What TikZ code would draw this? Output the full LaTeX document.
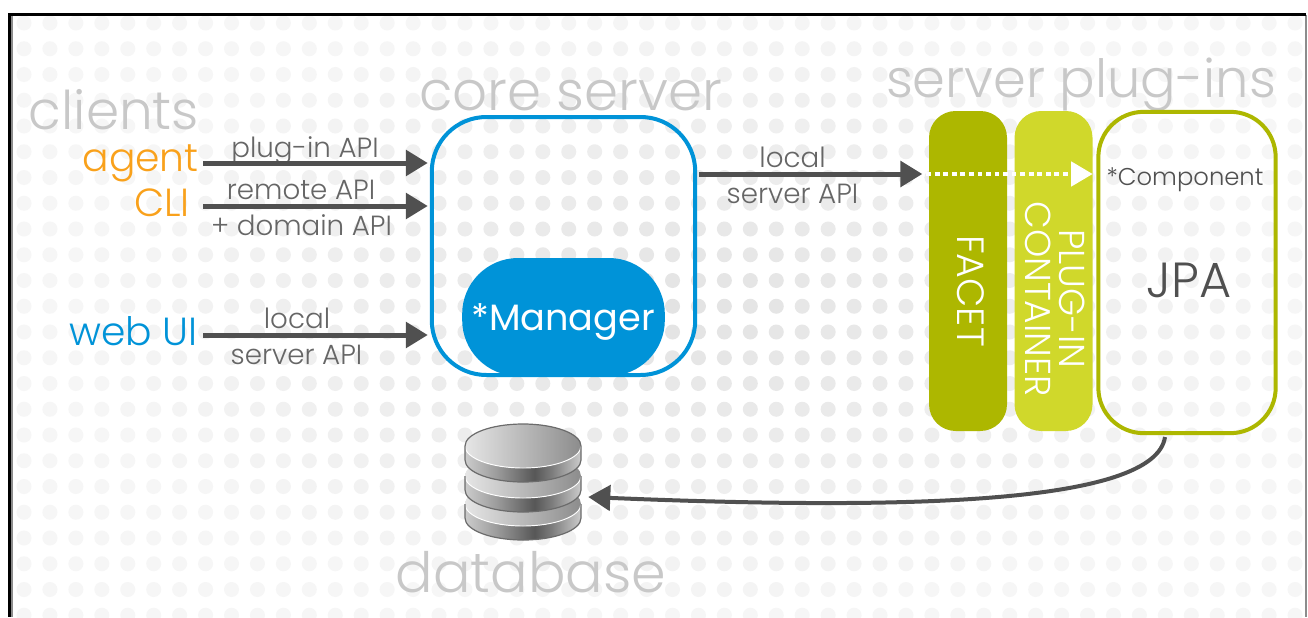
\documentclass[tikz,border=0pt]{standalone}
\usepackage{fontspec}
\usepackage{xcolor}
\usetikzlibrary{arrows.meta}
\setmainfont{Poppins}[UprightFont=* Light]
\newfontfamily\managerfont{Poppins}
\definecolor{coreblue}{HTML}{0093D8}
\definecolor{facetgreen}{HTML}{ADB700}
\definecolor{plugingreen}{HTML}{D0D82B}
\definecolor{agentorange}{HTML}{F9A11B}
\definecolor{arrowgray}{HTML}{505050}
\definecolor{titlegray}{HTML}{C8C8C8}
\pgfdeclarehorizontalshading{diskside}{100bp}{color(0bp)=(black!20);color(25bp)=(black!20);color(38bp)=(black!38);color(55bp)=(black!66);color(62bp)=(black!52);color(75bp)=(black!20);color(100bp)=(black!20)}
\tikzset{
  title/.style={anchor=base,inner sep=0pt,text=titlegray,font=\fontsize{41}{41}\selectfont},
  client/.style={anchor=base east,inner sep=0pt,font=\fontsize{29.4}{29.4}\selectfont},
  apilabel/.style={anchor=base,inner sep=0pt,text=black!60,font=\fontsize{20.8}{20.8}\selectfont},
  apiarrow/.style={draw=arrowgray,line width=3.75pt,shorten >=1.5pt,-{Triangle[length=16.5pt,width=19pt]}},
  sidebox/.style={rounded corners=20pt,minimum width=58.5pt,minimum height=240pt,inner sep=0pt,outer sep=0pt},
  sidetext/.style={rotate=-90,text=white,inner sep=0pt,align=center},
}
\begin{document}
\begin{tikzpicture}[x=0.75pt,y=0.75pt,yscale=-1,xscale=1]
\useasboundingbox (0,0) rectangle (1308,617);
\fill[white] (0,0) rectangle (1308,617);

% Background dots
\begin{scope}
\clip (8,14) rectangle (1306,617);
\foreach \i in {0,...,49}
  \foreach \j in {0,...,23} {
    \pgfmathsetmacro\dotx{24+25.94*\i}
    \pgfmathsetmacro\doty{23+25.75*\j}
    \pgfmathsetmacro\dotgray{max(3.5,11-7.5*sqrt(((\dotx-690)/620)^2+((\doty-310)/310)^2))}
    \fill[black!\dotgray] (\dotx,\doty) circle[radius=7.5];
  }
\end{scope}

% Frame
\draw[black!45,line width=1.5pt] (11.5,16) -- (11.5,617);
\draw[black,line width=2.25pt] (9,14.5) -- (9,617);
\draw[black!45,line width=1.2pt] (1306,15) -- (1306,617);
\draw[black,line width=2.25pt] (8,15) -- (1306,15);

% Titles
\node[title,font=\fontsize{40}{40}\selectfont] (clientstitle) at (114,129) {clients};
\node[title] (coretitle) at (570.5,110) {core server};
\node[title,font=\fontsize{39.5}{39.5}\selectfont] (plugintitle) at (1081,97) {server plug-ins};
\node[title,font=\fontsize{41.7}{41.7}\selectfont] (dbtitle) at (531,592) {database};

% Core server
\node[draw=coreblue,line width=3pt,rounded corners=41pt,minimum width=197.6pt,minimum height=193.5pt,inner sep=0pt,outer sep=1.5pt] (core) at (563.5,246) {};
\node[fill=coreblue,rounded corners=42pt,minimum width=152pt,minimum height=88.5pt,inner sep=0pt] (manager) at (563.5,317) {};
\node[anchor=base,inner sep=0pt,text=white,font=\managerfont\fontsize{27.5}{27.5}\selectfont] (managertext) at (563,330) {*Manager};

% Plug-in boxes
\node[sidebox,fill=facetgreen] (facet) at (968,271) {};
\node[sidebox,fill=plugingreen] (container) at (1053.5,271) {};
\node[draw=facetgreen,line width=3pt,rounded corners=34pt,minimum width=133pt,minimum height=241pt,inner sep=0pt,outer sep=1.5pt] (jpa) at (1187,272.5) {};
\node[sidetext,font=\fontsize{28.5}{28.5}\selectfont] (facettext) at (971,291) {FACET};
\node[sidetext,font=\fontsize{27}{25.5}\selectfont] (containertext) at (1055,299) {PLUG-IN\\CONTAINER};
\node[anchor=base,inner sep=0pt,text=arrowgray,font=\fontsize{18.2}{18.2}\selectfont] (componenttext) at (1185,185) {*Component};
\node[anchor=base,inner sep=0pt,text=arrowgray,font=\fontsize{37}{37}\selectfont] (jpatext) at (1189,297) {JPA};

% Clients
\node[client,text=agentorange] (agent) at (199,171) {agent};
\node[client,text=agentorange] (cli) at (190,216) {CLI};
\node[client,text=coreblue] (webui) at (198,345) {web UI};

% API labels
\node[apilabel] (pluginapi) at (305,157) {plug-in API};
\node[apilabel] (remoteapi) at (301,199) {remote API};
\node[apilabel] (domainapi) at (301.5,235) {+ domain API};
\node[apilabel] (weblocal) at (297,328) {local};
\node[apilabel] (webserver) at (296.5,364) {server API};
\node[apilabel] (corelocal) at (792.5,167) {local};
\node[apilabel] (coreserver) at (792.5,203) {server API};

% Database
\foreach \d in {504,476,446} {
  \shade[shading=diskside] (465,\d) -- (465,\d+14) arc[start angle=180,end angle=0,x radius=58,y radius=22] -- (581,\d) arc[start angle=0,end angle=180,x radius=58,y radius=22] -- cycle;
  \shade[left color=black!10,right color=black!45] (523,\d) ellipse[x radius=58,y radius=22];
  \draw[white,line width=0.7pt] (465,\d) arc[start angle=180,end angle=0,x radius=58,y radius=22];
  \draw[black!58,line width=0.9pt] (465,\d) -- (465,\d+14) arc[start angle=180,end angle=0,x radius=58,y radius=22] -- (581,\d);
}
\draw[black!58,line width=0.9pt] (465,446) arc[start angle=180,end angle=360,x radius=58,y radius=22];
\node[inner sep=0pt,minimum width=97.5pt,minimum height=90pt] (db) at (523,497) {};

% Connectors
\coordinate (agentout) at (203,163);
\coordinate (cliout) at (203,206);
\coordinate (webout) at (203,335);
\coordinate (coreout) at (699,174);
\coordinate (jpaout) at (1165,437);
\draw[apiarrow] (agentout) -- (agentout -| core.west);
\draw[apiarrow] (cliout) -- (cliout -| core.west);
\draw[apiarrow] (webout) -- (webout -| core.west);
\draw[apiarrow,shorten >=5pt] (coreout) -- (coreout -| facet.west);
\draw[white,line width=3.5pt,dash pattern=on 3.6pt off 2.8pt] ([xshift=-2pt]coreout -| facet.west) -- ([xshift=-14pt]coreout -| container.east);
\draw[white,-{Triangle[length=16pt,width=19pt]},line width=0pt] ([xshift=-16pt]coreout -| container.east) -- (coreout -| container.east);
\draw[draw=arrowgray,line width=3pt,-{Triangle[length=16.5pt,width=19pt]}] (jpaout) .. controls (1155,505) and (900,510) .. (db.east);
\end{tikzpicture}
\end{document}
